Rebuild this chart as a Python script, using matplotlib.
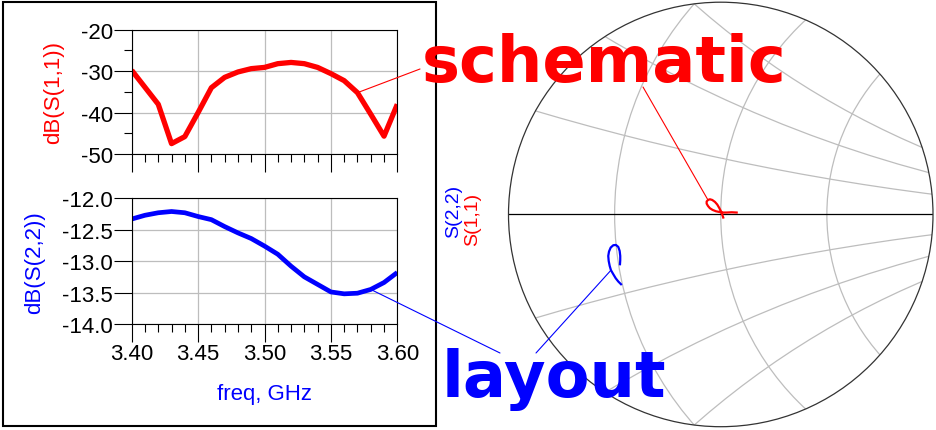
import numpy as np
import matplotlib.pyplot as plt
from matplotlib.patches import Circle, Rectangle, ConnectionPatch
from matplotlib.ticker import MultipleLocator, FormatStrFormatter

plt.rcParams['font.family'] = ['Liberation Sans', 'DejaVu Sans']
plt.rcParams['axes.unicode_minus'] = False

# dati
freq = [3.40, 3.41, 3.42, 3.43, 3.44, 3.45, 3.46, 3.47, 3.48, 3.49, 3.50,
        3.51, 3.52, 3.53, 3.54, 3.55, 3.56, 3.57, 3.58, 3.59, 3.60]
s11_db = [-29.8, -33.9, -38.0, -47.5, -45.8, -40.0, -34.0, -31.5, -30.2, -29.4, -29.1,
          -28.2, -27.9, -28.2, -29.1, -30.6, -32.3, -35.2, -40.4, -45.7, -38.0]
s22_db = [-12.33, -12.27, -12.23, -12.21, -12.23, -12.29, -12.34, -12.45, -12.55, -12.64, -12.76,
          -12.89, -13.08, -13.25, -13.37, -13.49, -13.52, -13.51, -13.45, -13.34, -13.18]

# traccia sulla carta di Smith (coefficiente di riflessione)
s11_re = [0.0300, 0.0205, 0.0111, 0.0036, -0.0028, -0.0090, -0.0153, -0.0204, -0.0241, -0.0266,
          -0.0266, -0.0241, -0.0204, -0.0160, -0.0109, -0.0066, -0.0028, 0.0004, 0.0028, 0.0047]
s11_im = [0.0036, 0.0041, 0.0036, 0.0036, 0.0047, 0.0060, 0.0085, 0.0117, 0.0160, 0.0205,
          0.0243, 0.0273, 0.0286, 0.0273, 0.0236, 0.0187, 0.0122, 0.0060, -0.0002, -0.0058]
s22_re = [-0.1880, -0.1931, -0.1980, -0.2025, -0.2069, -0.2093, -0.2112, -0.2120, -0.2106,
          -0.2074, -0.2025, -0.1975, -0.1931, -0.1905, -0.1894, -0.1894, -0.1899]
s22_im = [-0.1315, -0.1264, -0.1202, -0.1127, -0.1051, -0.0970, -0.0876, -0.0782, -0.0699,
          -0.0624, -0.0580, -0.0575, -0.0612, -0.0688, -0.0782, -0.0863, -0.0938]

# griglia della carta di Smith (zoom fino a |G| = 0.4)
rho = 0.4
r_grid = [2 / 3, 1.0, 1.5]
x_grid = [0.21, 0.42, 0.63]

W, H = 937, 431


def px_rect(l, t, r, b):
    return [l / W, 1 - b / H, (r - l) / W, (b - t) / H]


fig = plt.figure(figsize=(W / 100, H / 100), dpi=100)

# cornice del pannello di sinistra
fig.add_artist(Rectangle((3 / W, 1 - 427 / H), 433 / W, 424 / H, transform=fig.transFigure,
                         fill=False, ec='black', lw=1.5, zorder=1))

ax1 = fig.add_axes(px_rect(131.7, 30.7, 397.3, 155))
ax2 = fig.add_axes(px_rect(131.7, 199.3, 397.3, 325))

ax1.plot(freq, s11_db, color='#ff0000', lw=3.8, solid_joinstyle='round', solid_capstyle='butt')
ax2.plot(freq, s22_db, color='#0000ff', lw=3.4, solid_joinstyle='round', solid_capstyle='butt')

for ax in (ax1, ax2):
    ax.set_xlim(3.40, 3.60)
    ax.xaxis.set_major_locator(MultipleLocator(0.05))
    ax.xaxis.set_minor_locator(MultipleLocator(0.01))
    ax.grid(True, which='major', color='#bdbdbd', lw=0.9)
    ax.tick_params(which='major', direction='out', length=12.7, width=0.8, pad=1, labelsize=16)
    ax.tick_params(which='minor', direction='out', length=5.8, width=0.8)
    for s in ax.spines.values():
        s.set_linewidth(0.8)

ax1.set_ylim(-50, -20)
ax1.yaxis.set_major_locator(MultipleLocator(10))
ax1.yaxis.set_minor_locator(MultipleLocator(5))
ax1.tick_params(axis='x', labelbottom=False)
ax1.set_ylabel('dB(S(1,1))', color='#ff0000', fontsize=16, labelpad=12)

ax2.set_ylim(-14, -12)
ax2.yaxis.set_major_locator(MultipleLocator(0.5))
ax2.yaxis.set_major_formatter(FormatStrFormatter('%.1f'))
ax2.xaxis.set_major_formatter(FormatStrFormatter('%.2f'))
ax2.set_ylabel('dB(S(2,2))', color='#0000ff', fontsize=16, labelpad=12)
ax2.set_xlabel('freq, GHz', color='#0000ff', fontsize=16, labelpad=14)

# carta di Smith
ax3 = fig.add_axes(px_rect(508.5, 3.2, 933.0, 427.7))
ax3.set_xlim(-rho, rho)
ax3.set_ylim(-rho, rho)
ax3.set_aspect('equal')
ax3.axis('off')

edge = Circle((0, 0), rho, fill=False, ec='#333333', lw=0.9, clip_on=False, zorder=3)
ax3.add_patch(edge)
for r in r_grid:
    c = Circle((r / (1 + r), 0), 1 / (1 + r), fill=False, ec='#bdbdbd', lw=0.9, zorder=1)
    ax3.add_patch(c)
    c.set_clip_path(edge)
for x in x_grid:
    for sgn in (1, -1):
        c = Circle((1, sgn / x), 1 / x, fill=False, ec='#bdbdbd', lw=0.9, zorder=1)
        ax3.add_patch(c)
        c.set_clip_path(edge)
ax3.plot([-rho, rho], [0, 0], color='black', lw=0.9, zorder=2)

ax3.plot(s11_re, s11_im, color='#ff0000', lw=1.6, zorder=4)
ax3.plot(s22_re, s22_im, color='#0000ff', lw=1.6, zorder=4)

fig.text(454 / W, 1 - 211 / H, 'S(2,2)', rotation=90, ha='center', va='center',
         color='#0000ff', fontsize=14)
fig.text(473 / W, 1 - 219 / H, 'S(1,1)', rotation=90, ha='center', va='center',
         color='#ff0000', fontsize=14)

# etichette e linee di richiamo
fig.text(422 / W, 1 - 81.7 / H, 'schematic', family='DejaVu Sans', fontweight='bold',
         fontsize=46, color='#ff0000', ha='left', va='baseline')
fig.text(442 / W, 1 - 396.7 / H, 'layout', family='DejaVu Sans', fontweight='bold',
         fontsize=46, color='#0000ff', ha='left', va='baseline')

leaders = [
    ((3.57, -35.2), ax1, (420, H - 70), '#ff0000'),
    ((3.58, -13.45), ax2, (500, H - 354), '#0000ff'),
    ((s11_re[11], s11_im[11]), ax3, (643, H - 88), '#ff0000'),
    ((s22_re[4], s22_im[4]), ax3, (536, H - 354), '#0000ff'),
]
for xy, ax, fxy, col in leaders:
    cp = ConnectionPatch(xyA=xy, coordsA=ax.transData, xyB=fxy, coordsB='figure pixels',
                         color=col, lw=0.8, zorder=2)
    fig.add_artist(cp)

fig.savefig('out.png', dpi=100)
